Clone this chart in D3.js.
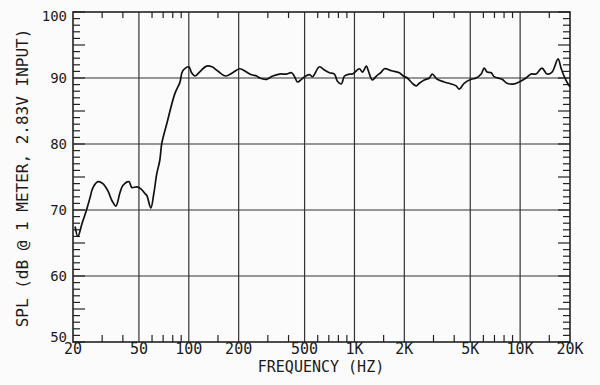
<!DOCTYPE html>
<html>
<head>
<meta charset="utf-8">
<script src="https://cdn.jsdelivr.net/npm/d3@7"></script>
<style>
  body { margin: 0; background: #fbfbfb; }
  svg { display: block; }
  text { font-family: 'DejaVu Sans Mono', monospace; fill: #1a1a1a; }
</style>
</head>
<body>
<script>
// Frequency response (Hz / dB SPL)
const freqHz = [20.6, 21.4, 22.7, 24.0, 25.3, 26.4, 28.3, 30.3, 32.5, 34.4,
  36.3, 38.4, 40, 43.5, 45.3, 48.6, 51.4, 54.3, 55.8, 59,
  61.5, 64.1, 66.8, 68.7, 73.7, 82.3, 88.3, 92, 100, 104,
  109, 116, 128, 138, 149, 167, 184, 203, 223, 239,
  257, 268, 295, 321, 353, 389, 417, 435, 453, 479,
  500, 536, 558, 615, 659, 706, 757, 789, 834, 870,
  933, 972, 1028, 1072, 1117, 1180, 1213, 1282, 1356, 1453,
  1517, 1671, 1866, 1972, 2084, 2234, 2362, 2463, 2638, 2830,
  2950, 3160, 3480, 3840, 4110, 4290, 4590, 5070, 5430, 5820,
  6070, 6320, 6690, 6970, 7780, 8340, 9200, 9860, 10860, 11640,
  12470, 13550, 14530, 15580, 16940, 17660, 18410, 19450, 20000]
const splDb = [67.5, 66.0, 68.0, 69.8, 71.8, 73.4, 74.3, 74.0, 72.9, 71.4,
  70.6, 72.6, 73.7, 74.3, 73.4, 73.5, 73.2, 72.5, 72.2, 70.3,
  72.5, 75.5, 77.5, 80.1, 83.1, 87.6, 89.3, 91.1, 91.7, 90.8,
  90.3, 90.9, 91.8, 91.7, 91.1, 90.3, 90.8, 91.4, 90.9, 90.5,
  90.3, 90.0, 89.8, 90.3, 90.6, 90.6, 90.8, 90.2, 89.4, 89.8,
  90.2, 90.5, 90.2, 91.7, 91.2, 90.8, 90.6, 89.5, 89.1, 90.3,
  90.6, 90.6, 91.1, 91.4, 90.9, 91.8, 91.1, 89.7, 90.3, 90.9,
  91.4, 91.1, 90.8, 90.3, 90.0, 89.2, 88.8, 89.2, 89.7, 90.0,
  90.6, 89.8, 89.4, 89.1, 88.8, 88.3, 89.2, 89.8, 90.0, 90.6,
  91.5, 90.9, 90.8, 90.2, 89.8, 89.2, 89.1, 89.4, 90.0, 90.6,
  90.6, 91.5, 90.6, 90.9, 92.9, 91.5, 90.3, 89.1, 88.7]

// Axis ticks
const xMajor = [20, 50, 100, 200, 500, 1000, 2000, 5000, 10000, 20000]
const xLabels = ['20', '50', '100', '200', '500', '1K', '2K', '5K', '10K', '20K']
const xMinor = [30, 40, 60, 70, 80, 90, 150, 300, 400, 600, 700, 800, 900,
  1500, 3000, 4000, 6000, 7000, 8000, 9000, 15000]
const yMajor = [50, 60, 70, 80, 90, 100]
const yMinor = d3.range(50, 101, 1)

const width = 600
const height = 385
const margin = { top: 12, bottom: 43, left: 73, right: 30 }

const svg = d3.select('body').append('svg')
  .attr('width', width).attr('height', height)

const x = d3.scaleLog().domain([20, 20000]).range([margin.left, width - margin.right])
const y = d3.scaleLinear().domain([50, 100]).range([height - margin.bottom, margin.top])

const ink = '#222'

// grid
svg.append('g').selectAll('line').data(xMajor.slice(1, -1)).join('line')
  .attr('x1', d => x(d)).attr('x2', d => x(d))
  .attr('y1', y(50)).attr('y2', y(100))
  .attr('stroke', '#333').attr('stroke-width', 1.2)
svg.append('g').selectAll('line').data(yMajor.slice(1, -1)).join('line')
  .attr('x1', x(20)).attr('x2', x(20000))
  .attr('y1', d => y(d)).attr('y2', d => y(d))
  .attr('stroke', '#333').attr('stroke-width', 1.2)

// inward ticks, left and right
const tickLen = d => (d % 5 === 0 ? 12 : 7)
svg.append('g').selectAll('line').data(yMinor).join('line')
  .attr('x1', x(20)).attr('x2', d => x(20) + tickLen(d))
  .attr('y1', d => y(d)).attr('y2', d => y(d))
  .attr('stroke', ink).attr('stroke-width', 1.2)
svg.append('g').selectAll('line').data(yMinor).join('line')
  .attr('x1', x(20000)).attr('x2', d => x(20000) - tickLen(d))
  .attr('y1', d => y(d)).attr('y2', d => y(d))
  .attr('stroke', ink).attr('stroke-width', 1.2)

// top and bottom ticks
svg.append('g').selectAll('line').data(xMinor).join('line')
  .attr('x1', d => x(d)).attr('x2', d => x(d))
  .attr('y1', y(50)).attr('y2', y(50) - 7)
  .attr('stroke', ink).attr('stroke-width', 1.2)
svg.append('g').selectAll('line').data(xMinor).join('line')
  .attr('x1', d => x(d)).attr('x2', d => x(d))
  .attr('y1', y(100)).attr('y2', y(100) + 6)
  .attr('stroke', ink).attr('stroke-width', 1.2)

// frame
svg.append('rect')
  .attr('x', x(20)).attr('y', y(100))
  .attr('width', x(20000) - x(20)).attr('height', y(50) - y(100))
  .attr('fill', 'none').attr('stroke', ink).attr('stroke-width', 1.6)

// labels: end labels are pulled inside the frame like the plotter did
const yLabelShift = d => (d === 100 ? 9 : d === 50 ? 0 : 5)
svg.append('g').selectAll('text').data(yMajor).join('text')
  .attr('x', x(20) - 6).attr('y', d => y(d) + yLabelShift(d))
  .attr('text-anchor', 'end').style('font-size', '14px')
  .text(d => d)
svg.append('g').selectAll('text').data(xMajor).join('text')
  .attr('x', d => x(d)).attr('y', y(50) + 12)
  .attr('text-anchor', 'middle').style('font-size', '15px')
  .text((d, i) => xLabels[i])

svg.append('text')
  .attr('x', 321).attr('y', 372)
  .attr('text-anchor', 'middle').style('font-size', '15px')
  .text('FREQUENCY (HZ)')

svg.append('text')
  .attr('transform', 'translate(28,178) rotate(-90)')
  .attr('text-anchor', 'middle').style('font-size', '16px')
  .text('SPL (dB @ 1 METER, 2.83V INPUT)')

// response curve
const line = d3.line()
  .x(d => x(d[0]))
  .y(d => y(d[1]))
  .curve(d3.curveCatmullRom.alpha(0.5))

svg.append('path')
  .datum(d3.zip(freqHz, splDb))
  .attr('d', line)
  .attr('fill', 'none')
  .attr('stroke', '#111')
  .attr('stroke-width', 1.7)
</script>
</body>
</html>
